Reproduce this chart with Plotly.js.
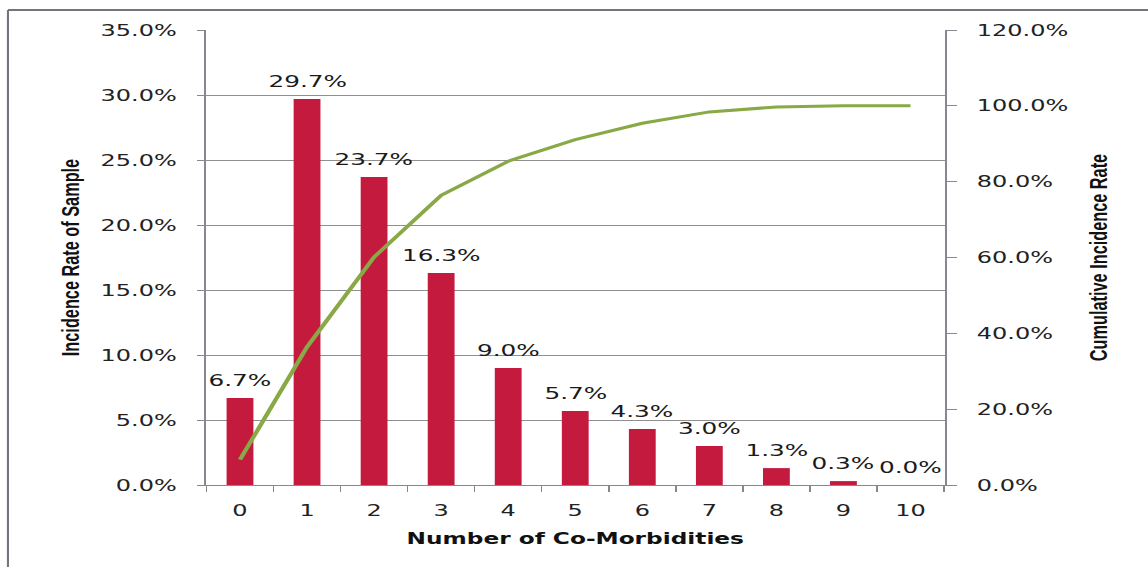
<!DOCTYPE html>
<html>
<head>
<meta charset="utf-8">
<script src="https://cdn.plot.ly/plotly-3.0.1.min.js"></script>
<style>
  html, body { margin: 0; padding: 0; background: #ffffff; overflow: hidden; }
  /* the figure is laid out narrow and widened 1.5x, giving the broad lettering of the printed chart */
  #wrap { position: absolute; left: 0; top: 0; width: 766px; height: 567px;
          transform: scaleX(1.5); transform-origin: 0 0; }
</style>
</head>
<body>
<div id="wrap"><div id="chart"></div></div>
<script>
// Number of co-morbidities per patient
const categories = ['0', '1', '2', '3', '4', '5', '6', '7', '8', '9', '10'];
// Share of the sample with that many co-morbidities (%)
const incidence = [6.7, 29.7, 23.7, 16.3, 9.0, 5.7, 4.3, 3.0, 1.3, 0.3, 0.0];
// Running total of the shares (%)
const cumulative = [6.7, 36.4, 60.1, 76.4, 85.4, 91.1, 95.4, 98.4, 99.7, 100.0, 100.0];

const leftTicks = [0, 5, 10, 15, 20, 25, 30, 35];
const rightTicks = [0, 20, 40, 60, 80, 100, 120];

const W = 766, H = 567;
const M = { l: 137, r: 136, t: 30, b: 82 };
const plotW = W - M.l - M.r, plotH = H - M.t - M.b;

const axisGrey = '#8a8690';
const textCol = '#222222';
const tickFont = { family: 'DejaVu Sans, Verdana, sans-serif', size: 16, color: textCol };
const narrowBold = { family: 'Liberation Sans Narrow, Arial Narrow, sans-serif', size: 16.3, color: '#111111', weight: 'bold' };

const bars = {
  type: 'bar',
  x: categories,
  y: incidence,
  marker: { color: '#c41a3d', line: { width: 0 } },
  yaxis: 'y',
  hoverinfo: 'skip'
};

const cumLine = {
  type: 'scatter',
  mode: 'lines',
  x: categories,
  y: cumulative,
  yaxis: 'y2',
  line: { color: '#88a945', width: 3 },
  hoverinfo: 'skip'
};

const labels = categories.map((c, i) => ({
  x: c, y: incidence[i], xref: 'x', yref: 'y',
  text: incidence[i].toFixed(1) + '%',
  showarrow: false, yanchor: 'bottom', yshift: 6,
  font: { family: 'DejaVu Sans, Verdana, sans-serif', size: 16.5, color: '#1a1a1a' }
}));

// outer frame of the figure (left and top edges)
const fx = (px) => (px - M.l) / plotW;
const fy = (py) => (H - M.b - py) / plotH;
const frame = [
  { type: 'line', xref: 'paper', yref: 'paper', x0: fx(5.3), x1: fx(5.3), y0: fy(10), y1: fy(H + 20),
    line: { color: '#77727e', width: 1.4 } },
  { type: 'line', xref: 'paper', yref: 'paper', x0: fx(5.3), x1: fx(W + 20), y0: fy(10), y1: fy(10),
    line: { color: '#77727e', width: 2 } }
];

const layout = {
  width: W, height: H,
  margin: M,
  paper_bgcolor: '#ffffff', plot_bgcolor: '#ffffff',
  showlegend: false,
  bargap: 0.6,
  font: tickFont,
  xaxis: {
    type: 'category',
    categoryarray: categories,
    tickson: 'boundaries',
    ticks: 'outside', ticklen: 6, tickwidth: 1, tickcolor: axisGrey,
    ticklabelstandoff: 11,
    showline: true, linecolor: axisGrey, linewidth: 1,
    showgrid: false, zeroline: false,
    tickfont: tickFont,
    title: { text: 'Number of Co-Morbidities', standoff: 13,
             font: { family: 'DejaVu Sans, Verdana, sans-serif', size: 15.5, color: '#111111', weight: 'bold' } }
  },
  yaxis: {
    range: [0, 35],
    tickvals: leftTicks,
    ticktext: leftTicks.map(v => v.toFixed(1) + '%'),
    ticks: 'outside', ticklen: 5, tickwidth: 1, tickcolor: axisGrey,
    ticklabelstandoff: 10,
    showline: true, linecolor: axisGrey, linewidth: 1,
    showgrid: true, gridcolor: '#8f8f8f', gridwidth: 1,
    zeroline: false,
    tickfont: tickFont,
    title: { text: 'Incidence Rate of Sample', standoff: 9, font: narrowBold }
  },
  yaxis2: {
    overlaying: 'y', side: 'right',
    range: [0, 120],
    tickvals: rightTicks,
    ticktext: rightTicks.map(v => v.toFixed(1) + '%'),
    ticks: 'outside', ticklen: 7, tickwidth: 1, tickcolor: axisGrey,
    ticklabelstandoff: 10,
    showline: true, linecolor: axisGrey, linewidth: 1,
    showgrid: false, zeroline: false,
    tickfont: tickFont,
    title: { text: 'Cumulative Incidence Rate', standoff: 15, font: narrowBold }
  },
  annotations: labels,
  shapes: frame
};

Plotly.newPlot('chart', [bars, cumLine], layout, { staticPlot: true, displayModeBar: false });
</script>
</body>
</html>
